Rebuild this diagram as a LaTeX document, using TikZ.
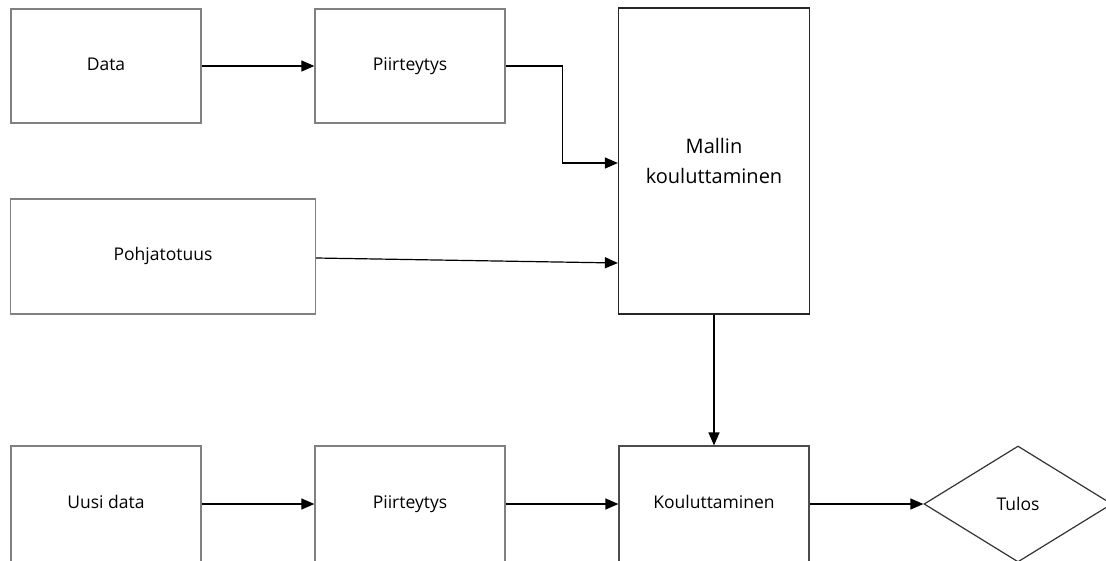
\documentclass[tikz,border=0pt]{standalone}
\usepackage{fontspec}
\setmainfont{Open Sans}
\usetikzlibrary{shapes.geometric, arrows.meta}
\tikzstyle{block} = [rectangle, minimum width=190pt, minimum height=114pt, text centered, text height=1em, text depth=0.2em, draw=black!50, line width=1.3pt, font=\fontsize{17.5}{21}\selectfont]
\tikzstyle{darkblock} = [block, draw=black!85, line width=1.2pt]
\tikzstyle{result} = [diamond, minimum width=188pt, minimum height=116pt, inner sep=0pt, text centered, draw=black!80, line width=1.2pt, font=\fontsize{17.5}{21}\selectfont]
\tikzstyle{arrow} = [line width=1.2pt, -{Triangle[length=13pt,width=11pt]}]
\begin{document}
\begin{tikzpicture}[node distance=304pt]
\clip (0,0) rectangle (1106pt,-560pt);

\node (data) [block] at (106pt,-66pt) {Data};
\node (piirt) [block, right of=data] {Piirteytys};
\node (malli) [darkblock, right of=piirt, yshift=-95pt, minimum width=191pt, minimum height=306pt, align=center, text height=, text depth=, font=\fontsize{20}{30}\selectfont] {Mallin\\kouluttaminen};

\node (pohja) [block, below of=data, xshift=57pt, yshift=113.5pt, minimum width=305pt, minimum height=115pt] {Pohjatotuus};

\node (uusi) [block, minimum height=116pt] at (106pt,-504pt) {Uusi data};
\node (piirt2) [block, right of=uusi, minimum height=116pt] {Piirteytys};
\node (koul) [darkblock, right of=piirt2, minimum height=116pt, draw=black!70] {Kouluttaminen};
\node (tulos) [result, right of=koul] {Tulos};

\draw [arrow] (data) -- (piirt);
\draw [arrow] (piirt.east) -- ++(57pt,0) |- ([yshift=-2pt]malli.west);
\draw [arrow] ([yshift=-1.5pt]pohja.east) -- ([yshift=-102pt]malli.west);
\draw [arrow] (malli) -- (koul);

\draw [arrow] (uusi) -- (piirt2);
\draw [arrow] (piirt2) -- (koul);
\draw [arrow] (koul) -- (tulos);

\end{tikzpicture}
\end{document}
